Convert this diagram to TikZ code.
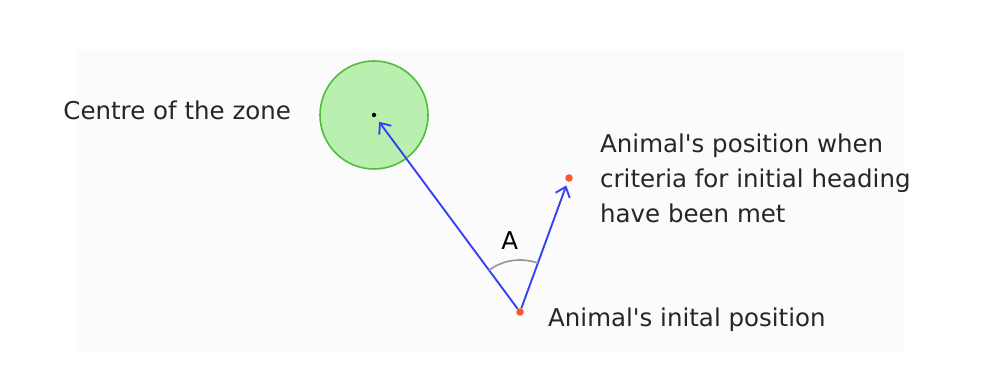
\documentclass[tikz,border=0pt]{standalone}
\usepackage{fontspec}
\setmainfont{DejaVu Sans}
\usetikzlibrary{positioning,arrows.meta,angles,quotes}
\definecolor{zonefill}{RGB}{185,240,175}
\definecolor{zoneline}{RGB}{80,190,60}
\definecolor{headblue}{RGB}{55,65,245}
\definecolor{spotred}{RGB}{250,85,45}
\definecolor{arcgray}{RGB}{150,150,150}
\tikzset{
  lbl/.style={font=\fontsize{24.5}{35}\selectfont, inner sep=0pt, text=black!85},
  spot/.style={circle, fill=spotred, inner sep=0pt, minimum size=7.5pt},
  hd/.style={-{Straight Barb[length=9pt,width=15pt]}, draw=headblue, line width=1.9pt},
}

\begin{document}
\begin{tikzpicture}[x=1pt,y=1pt]
\useasboundingbox (0,0) rectangle (981,371);
\fill[white] (0,0) rectangle (981,371);
\fill[black!1.5] (75,19) rectangle (905,321);
% zone and points
\node[circle, draw=zoneline, fill=zonefill, line width=1.6pt, minimum size=108pt, inner sep=0pt] (zone) at (374,256) {};
\node[circle, fill=black, inner sep=0pt, minimum size=4.5pt] (centre) at (zone.center) {};
\node[spot] (init) at (520,59) {};
\node[spot] (met) at (569,193) {};
% labels
\node[lbl, left=28pt of zone.west, yshift=5pt, anchor=east] (zonelbl) {Centre of the zone};
\node[lbl, right=24pt of init, yshift=-8pt, anchor=west] (initlbl) {Animal\textquotesingle s inital position};
\node[lbl, right=27pt of met, anchor=west, align=left] (metlbl) {Animal\textquotesingle s position when\\criteria for initial heading\\have been met};
% headings
\draw[hd, shorten >=6pt] (init) -- (centre);
\draw[hd, shorten >=4pt] (init) -- (met);
\pic[draw=arcgray, line width=1.6pt, angle radius=52pt, angle eccentricity=1.38, "\fontsize{24.5}{26}\selectfont A"] {angle=met--init--centre};
\end{tikzpicture}
\end{document}
